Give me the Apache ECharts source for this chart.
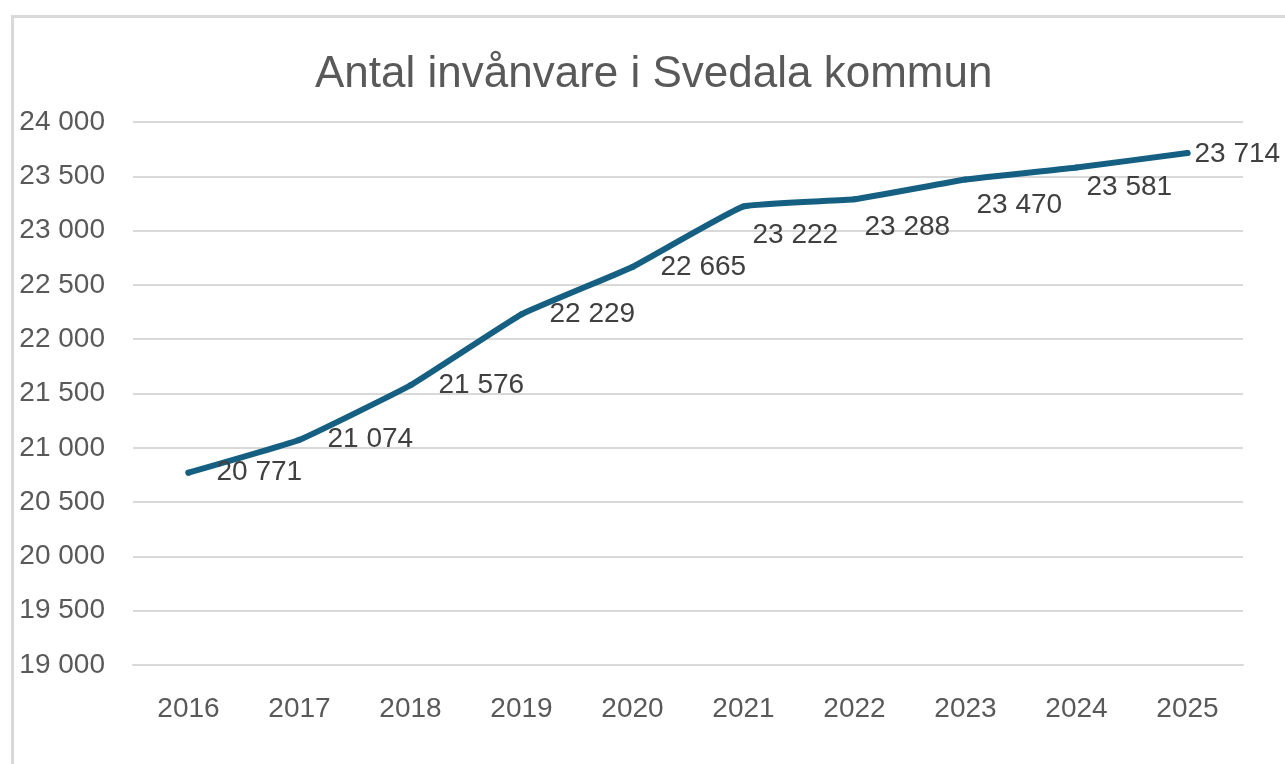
<!DOCTYPE html>
<html>
<head>
<meta charset="utf-8">
<script src="https://cdn.jsdelivr.net/npm/echarts@6/dist/echarts.min.js"></script>
<style>
html,body{margin:0;padding:0;background:#fff;}
#chart{width:1285px;height:764px;}
</style>
</head>
<body>
<div id="chart"></div>
<script>
const titleText = 'Antal invånvare i Svedala kommun';
const years = ['2016','2017','2018','2019','2020','2021','2022','2023','2024','2025'];
const population = [20771, 21074, 21576, 22229, 22665, 23222, 23288, 23470, 23581, 23714];
const yMin = 19000, yMax = 24000, yStep = 500;

function fmt(v){
  const s = String(Math.round(v));
  return s.replace(/\B(?=(\d{3})+(?!\d))/g, ' ');
}

// label placement (style only)
const labelOffsets = [[21,0],[21,0],[21,0],[21,0],[21,0],[2,29],[3,28],[4,26],[3,20],[0,1]];

const chart = echarts.init(document.getElementById('chart'));
chart.setOption({
  backgroundColor:'#fff',
  animation:false,
  graphic:[{
    type:'rect', left:10, top:14, z:-1,
    shape:{x:0,y:0,width:1300,height:800},
    style:{fill:'none', stroke:'#d9d9d9', lineWidth:3}
  }],
  title:{
    text:titleText, left:315, top:53,
    textStyle:{fontFamily:'Liberation Sans, Arial, sans-serif', fontSize:44, fontWeight:'normal', color:'#595959'},
    padding:0
  },
  grid:{left:133, right:42, top:122, bottom:99, containLabel:false},
  xAxis:{
    type:'category', data:years, boundaryGap:true,
    axisLine:{show:true, lineStyle:{color:'#d9d9d9', width:2}},
    axisTick:{show:false},
    axisLabel:{color:'#595959', fontSize:28, fontFamily:'Liberation Sans, Arial, sans-serif', margin:30}
  },
  yAxis:{
    type:'value', min:yMin, max:yMax, interval:yStep,
    axisLine:{show:false}, axisTick:{show:false},
    splitLine:{lineStyle:{color:'#d9d9d9', width:2}},
    axisLabel:{color:'#595959', fontSize:28, fontFamily:'Liberation Sans, Arial, sans-serif', margin:28, formatter:fmt}
  },
  series:[{
    type:'line',
    data: population.map((v,i)=>({value:v, label:{offset:labelOffsets[i]}})),
    smooth:0.1,
    symbol:'circle', symbolSize:6, showSymbol:true,
    itemStyle:{color:'#156082'},
    lineStyle:{color:'#156082', width:6, cap:'round', join:'round'},
    label:{
      show:true, position:'right', distance:4,
      color:'#404040', fontSize:28, fontFamily:'Liberation Sans, Arial, sans-serif',
      formatter:p=>fmt(p.value)
    }
  }]
});
</script>
</body>
</html>
